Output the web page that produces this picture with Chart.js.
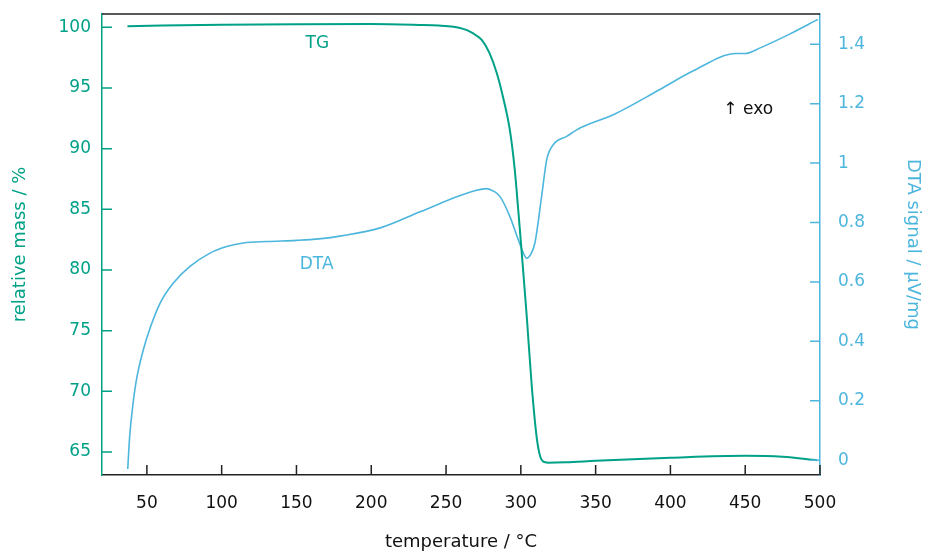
<!DOCTYPE html>
<html>
<head>
<meta charset="utf-8">
<script src="https://cdn.jsdelivr.net/npm/chart.js@4/dist/chart.umd.min.js"></script>
<style>
  html, body { margin: 0; padding: 0; background: #fff; }
  #wrap { width: 925px; height: 553px; }
</style>
</head>
<body>
<div id="wrap"><canvas id="tga-chart" width="925" height="553"></canvas></div>
<script>
// TG / DTA thermogram, mass on the left axis and DTA signal on the right

const tgTemp = [37, 60, 100, 150, 200, 232, 245, 255, 262, 266, 270, 274, 279, 284, 288,
    292.7, 296, 298.3, 300.5, 304, 307.2, 310.6, 313, 315, 318, 330, 350, 400, 450, 475, 498];
const tgMass = [100.1, 100.15, 100.21, 100.25, 100.27, 100.2, 100.15, 100.05, 99.85, 99.64, 99.35, 98.95, 97.9, 96.2, 94.3,
    91.5, 88.2, 84.9, 81.6, 76.1, 70.6, 66.2, 64.6, 64.2, 64.12, 64.15, 64.27, 64.52, 64.68, 64.6, 64.32];

const dtaTemp = [37.2, 38.5, 40.5, 43.2, 47.6, 52.1, 58.8, 67.7, 78.8, 92.2, 103.4, 114.5, 130, 150, 165, 180,
    206, 233, 259, 270, 277, 282, 286, 292.7, 298.3, 301.5, 303.9, 306.5, 309.4, 313.9, 317.3,
    321.7, 330.6, 339.5, 361.8, 393, 415, 444, 450, 460, 480, 498.6];
const dtaSignal = [-0.03, 0.08, 0.18, 0.275, 0.371, 0.444, 0.528, 0.596, 0.652, 0.697, 0.719, 0.731, 0.736, 0.74, 0.745, 0.755,
    0.782, 0.837, 0.89, 0.908, 0.914, 0.905, 0.888, 0.82, 0.742, 0.70, 0.68, 0.692, 0.731, 0.888, 1.012,
    1.062, 1.09, 1.118, 1.163, 1.248, 1.31, 1.369, 1.369, 1.388, 1.435, 1.484];

const tempTicks = [50, 100, 150, 200, 250, 300, 350, 400, 450, 500];
const massTicks = [65, 70, 75, 80, 85, 90, 95, 100];
const dtaTicks = [0, 0.2, 0.4, 0.6, 0.8, 1, 1.2, 1.4];

// curve labels, in data units [temperature, value on its own axis]
const tgLabelAt = [164, 98.7];
const dtaLabelAt = [163.5, 0.66];
const exoLabelAt = [452, 1.18];

const TEAL = '#00a187';
const BLUE = '#4db6dd';
const FONT = '"DejaVu Sans", Verdana, sans-serif';

const toPoints = (xs, ys) => xs.map((x, i) => ({ x, y: ys[i] }));
const fixTicks = list => scale => { scale.ticks = list.map(value => ({ value })); };

// inward tick marks, top frame line and curve labels
const decorPlugin = {
    id: 'decor',
    afterDraw(chart) {
        const { ctx, chartArea: a, scales } = chart;
        ctx.save();
        ctx.lineWidth = 1.5;

        ctx.strokeStyle = '#222';
        ctx.beginPath();
        ctx.moveTo(a.left, a.top);
        ctx.lineTo(a.right, a.top);
        ctx.stroke();

        ctx.beginPath();
        scales.x.ticks.forEach(t => {
            const px = scales.x.getPixelForValue(t.value);
            ctx.moveTo(px, a.bottom);
            ctx.lineTo(px, a.bottom - 10);
        });
        ctx.stroke();

        ctx.strokeStyle = TEAL;
        ctx.beginPath();
        scales.y.ticks.forEach(t => {
            const py = scales.y.getPixelForValue(t.value);
            ctx.moveTo(a.left, py);
            ctx.lineTo(a.left + 10, py);
        });
        ctx.stroke();

        ctx.strokeStyle = BLUE;
        ctx.beginPath();
        scales.y1.ticks.forEach(t => {
            const py = scales.y1.getPixelForValue(t.value);
            ctx.moveTo(a.right, py);
            ctx.lineTo(a.right - 10, py);
        });
        ctx.stroke();

        ctx.font = '17px ' + FONT;
        ctx.textAlign = 'center';
        ctx.textBaseline = 'middle';
        ctx.fillStyle = TEAL;
        ctx.fillText('TG', scales.x.getPixelForValue(tgLabelAt[0]), scales.y.getPixelForValue(tgLabelAt[1]));
        ctx.fillStyle = BLUE;
        ctx.fillText('DTA', scales.x.getPixelForValue(dtaLabelAt[0]), scales.y1.getPixelForValue(dtaLabelAt[1]));
        ctx.fillStyle = '#111';
        ctx.fillText('\u2191 exo', scales.x.getPixelForValue(exoLabelAt[0]), scales.y1.getPixelForValue(exoLabelAt[1]));
        ctx.restore();
    },
};

new Chart(document.getElementById('tga-chart'), {
    type: 'line',
    data: {
        datasets: [{
            label: 'TG',
            data: toPoints(tgTemp, tgMass),
            yAxisID: 'y',
            borderColor: TEAL,
            borderWidth: 2,
            pointRadius: 0,
            cubicInterpolationMode: 'monotone',
        }, {
            label: 'DTA',
            data: toPoints(dtaTemp, dtaSignal),
            yAxisID: 'y1',
            borderColor: BLUE,
            borderWidth: 1.6,
            pointRadius: 0,
            cubicInterpolationMode: 'monotone',
        }],
    },
    options: {
        responsive: false,
        animation: false,
        layout: { padding: { top: 14, left: 0, right: 0, bottom: 0 } },
        plugins: {
            legend: { display: false },
            tooltip: { enabled: false },
        },
        scales: {
            x: {
                type: 'linear',
                min: 20,
                max: 500,
                afterBuildTicks: fixTicks(tempTicks),
                grid: { display: false, drawTicks: false },
                border: { color: '#222', width: 1.5 },
                ticks: { color: '#111', padding: 18, font: { size: 17, family: FONT } },
                title: {
                    display: true,
                    text: 'temperature / \u00b0C',
                    color: '#111',
                    padding: { top: 0, bottom: 0 },
                    font: { size: 18, family: FONT },
                },
                afterFit: s => { s.height = 78; s.paddingLeft = 0; s.paddingRight = 0; },
            },
            y: {
                position: 'left',
                min: 63.1,
                max: 101.1,
                afterBuildTicks: fixTicks(massTicks),
                grid: { display: false, drawTicks: false },
                border: { color: TEAL, width: 1.5 },
                ticks: { color: TEAL, padding: 11, font: { size: 17, family: FONT } },
                title: {
                    display: true,
                    text: 'relative mass / %',
                    color: TEAL,
                    padding: { top: 10, bottom: 0 },
                    font: { size: 18, family: FONT },
                },
                afterFit: s => { s.width = 102; s.paddingTop = 0; s.paddingBottom = 0; },
            },
            y1: {
                position: 'right',
                min: -0.05,
                max: 1.502,
                afterBuildTicks: fixTicks(dtaTicks),
                grid: { display: false, drawTicks: false },
                border: { color: BLUE, width: 1.5 },
                ticks: {
                    color: BLUE,
                    padding: 18,
                    font: { size: 17, family: FONT },
                    callback: v => String(+v.toFixed(1)),
                },
                title: {
                    display: true,
                    text: 'DTA signal / \u00b5V/mg',
                    color: BLUE,
                    padding: { top: 2, bottom: 0 },
                    font: { size: 18, family: FONT },
                },
                afterFit: s => { s.width = 105; s.paddingTop = 0; s.paddingBottom = 0; },
            },
        },
    },
    plugins: [decorPlugin],
});
</script>
</body>
</html>
